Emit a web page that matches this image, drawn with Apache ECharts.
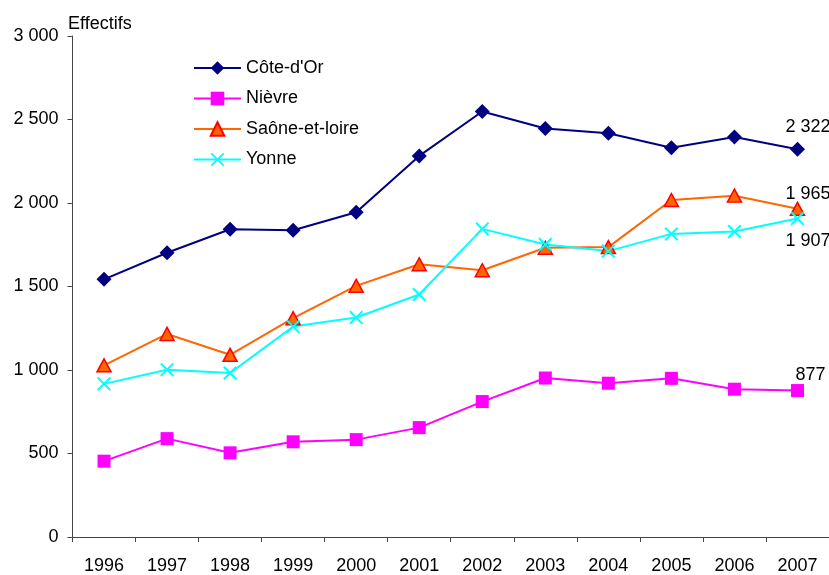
<!DOCTYPE html>
<html>
<head>
<meta charset="utf-8">
<script src="https://cdn.jsdelivr.net/npm/echarts@6/dist/echarts.min.js"></script>
<style>
  html, body { margin: 0; padding: 0; background: #fff; }
  #chart { width: 829px; height: 575px; }
</style>
</head>
<body>
<div id="chart"></div>
<script>
// Effectifs par département, 1996-2007
const years = ['1996','1997','1998','1999','2000','2001','2002','2003','2004','2005','2006','2007'];
const coteDOr = [1543, 1702, 1843, 1837, 1945, 2282, 2548, 2446, 2418, 2331, 2395, 2322];
const nievre = [454, 589, 504, 570, 583, 655, 811, 952, 921, 950, 885, 877];
const saoneEtLoire = [1028, 1216, 1091, 1310, 1504, 1633, 1597, 1732, 1736, 2018, 2044, 1965];
const yonne = [917, 1002, 982, 1260, 1314, 1452, 1845, 1752, 1712, 1815, 1829, 1907];

const FONT = '"Liberation Sans", Arial, sans-serif';
const fmt = v => String(v).replace(/\B(?=(\d{3})+(?!\d))/g, ' ');

// Last-point value label
function lastLabel(values, offset) {
  return values.map((v, i) => i === values.length - 1 ? {
    value: v,
    label: {
      show: true, position: 'inside', align: 'left', verticalAlign: 'middle',
      offset: offset, formatter: p => fmt(p.value),
      color: '#000', fontSize: 18, fontFamily: FONT
    }
  } : v);
}

const xShape = 'path://M0,1.4L1.4,0L7,5.6L12.6,0L14,1.4L8.4,7L14,12.6L12.6,14L7,8.4L1.4,14L0,12.6L5.6,7Z';

const chart = echarts.init(document.getElementById('chart'), null, { renderer: 'canvas' });
chart.setOption({
  animation: false,
  backgroundColor: '#fff',
  textStyle: { fontFamily: FONT },
  title: {
    text: 'Effectifs', left: 63, top: 10,
    textStyle: { fontSize: 18, fontWeight: 'normal', color: '#000', fontFamily: FONT }
  },
  legend: {
    orient: 'vertical', left: 188, top: 54,
    itemWidth: 47, itemHeight: 17, itemGap: 12.5,
    textStyle: { fontSize: 18, color: '#000', lineHeight: 17, fontFamily: FONT },
    data: ['Côte-d\'Or', 'Nièvre', 'Saône-et-loire', 'Yonne']
  },
  grid: { left: 72.5, top: 36, width: 762, height: 504, containLabel: false },
  xAxis: {
    type: 'category', data: years, boundaryGap: true,
    axisLine: { lineStyle: { color: '#444', width: 1 } },
    axisTick: { show: true, length: 5, inside: false, lineStyle: { color: '#444' } },
    axisLabel: { color: '#000', fontSize: 18, margin: 20, fontFamily: FONT }
  },
  yAxis: {
    type: 'value', min: 0, max: 3000, interval: 500,
    axisLine: { show: true, lineStyle: { color: '#444', width: 1 } },
    axisTick: { show: true, length: 5, lineStyle: { color: '#444' } },
    splitLine: { show: false },
    axisLabel: { color: '#000', fontSize: 18, margin: 14, fontFamily: FONT, formatter: v => fmt(v) }
  },
  series: [
    {
      name: 'Côte-d\'Or', type: 'line', data: lastLabel(coteDOr, [-12, -22]),
      symbol: 'diamond', symbolSize: 15,
      lineStyle: { color: '#000080', width: 2 },
      itemStyle: { color: '#000080' }
    },
    {
      name: 'Nièvre', type: 'line', data: lastLabel(nievre, [-2, -16]),
      symbol: 'rect', symbolSize: 13,
      lineStyle: { color: '#FF00FF', width: 2 },
      itemStyle: { color: '#FF00FF' }
    },
    {
      name: 'Saône-et-loire', type: 'line', data: lastLabel(saoneEtLoire, [-12, -15]),
      symbol: 'triangle', symbolSize: [14, 13],
      lineStyle: { color: '#FF6600', width: 2 },
      itemStyle: { color: '#FF6600', borderColor: '#FF0000', borderWidth: 1.5 }
    },
    {
      name: 'Yonne', type: 'line', data: lastLabel(yonne, [-12, 23]),
      symbol: xShape, symbolSize: 14,
      lineStyle: { color: '#00FFFF', width: 2 },
      itemStyle: { color: '#00FFFF' }
    }
  ]
});
</script>
</body>
</html>
